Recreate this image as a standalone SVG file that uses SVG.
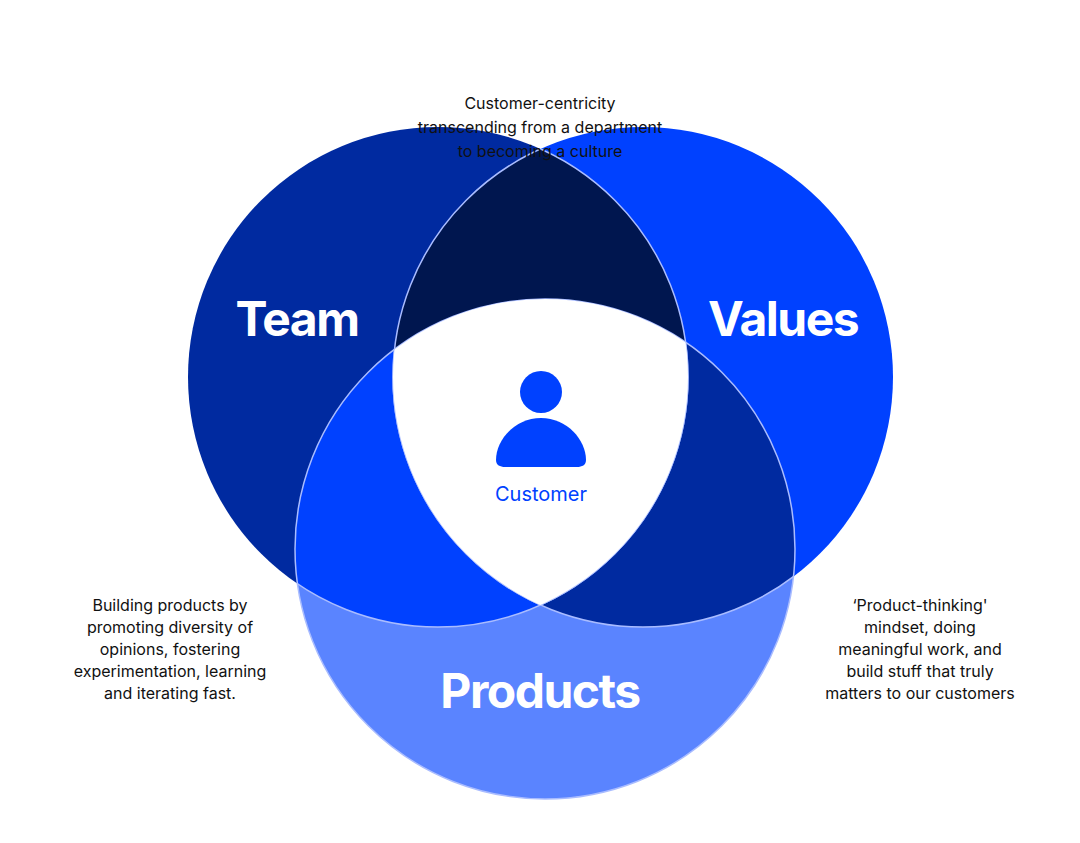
<svg xmlns="http://www.w3.org/2000/svg" width="1080" height="843" viewBox="0 0 1080 843">
<style>
.t{font-family:Inter,"Liberation Sans",sans-serif;font-size:16px;fill:#111;text-anchor:middle}
.h{font-family:Inter,"Liberation Sans",sans-serif;font-size:48px;font-weight:700;fill:#fff;text-anchor:middle;letter-spacing:-1.5px}
.ol{fill:none;stroke:#a9bcff;stroke-width:1.5}
</style>
<defs>
<clipPath id="cT"><circle cx="438" cy="377" r="250"/></clipPath>
<clipPath id="cV"><circle cx="643" cy="377" r="250"/></clipPath>
<clipPath id="cP"><circle cx="545" cy="549" r="250"/></clipPath>
</defs>
<rect width="1080" height="843" fill="#fff"/>
<g id="team"><circle cx="438" cy="377" r="250" fill="#002aa0"/></g>
<g id="values"><circle cx="643" cy="377" r="250" fill="#0041ff"/></g>
<g id="products"><circle cx="545" cy="549" r="250" fill="#5a84ff"/></g>
<g id="overlaps">
<circle cx="643" cy="377" r="250" fill="#00164f" clip-path="url(#cT)"/>
<circle cx="545" cy="549" r="250" fill="#0041ff" clip-path="url(#cT)"/>
<circle cx="545" cy="549" r="250" fill="#002aa0" clip-path="url(#cV)"/>
</g>
<g id="outlines">
<circle class="ol" cx="438" cy="377" r="250" clip-path="url(#cV)"/>
<circle class="ol" cx="643" cy="377" r="250" clip-path="url(#cT)"/>
<circle class="ol" cx="545" cy="549" r="250"/>
<circle class="ol" cx="438" cy="377" r="250" clip-path="url(#cP)"/>
<circle class="ol" cx="643" cy="377" r="250" clip-path="url(#cP)"/>
</g>
<g id="customer">
<g clip-path="url(#cT)"><g clip-path="url(#cV)"><circle cx="545" cy="549" r="250" fill="#fff"/></g></g>
<circle cx="541" cy="392" r="21" fill="#0041ff"/>
<path d="M541 418 C567 418 586 440 586 460 C586 465 582 467 577 467 L505 467 C500 467 496 465 496 460 C496 440 515 418 541 418 Z" fill="#0041ff"/>
<text x="541" y="501" font-family="Inter,'Liberation Sans',sans-serif" font-size="20" fill="#0041ff" text-anchor="middle">Customer</text>
</g>
<text class="h" x="297" y="336">Team</text>
<text class="h" x="783" y="336">Values</text>
<text class="h" x="540" y="708">Products</text>
<g class="t">
<text x="540" y="109">Customer-centricity</text>
<text x="540" y="133">transcending from a department</text>
<text x="540" y="157">to becoming a culture</text>
</g>
<g class="t">
<text x="170" y="611">Building products by</text>
<text x="170" y="633">promoting diversity of</text>
<text x="170" y="655">opinions, fostering</text>
<text x="170" y="677">experimentation, learning</text>
<text x="170" y="699">and iterating fast.</text>
</g>
<g class="t">
<text x="920" y="611">‘Product-thinking'</text>
<text x="920" y="633">mindset, doing</text>
<text x="920" y="655">meaningful work, and</text>
<text x="920" y="677">build stuff that truly</text>
<text x="920" y="699">matters to our customers</text>
</g>
</svg>
